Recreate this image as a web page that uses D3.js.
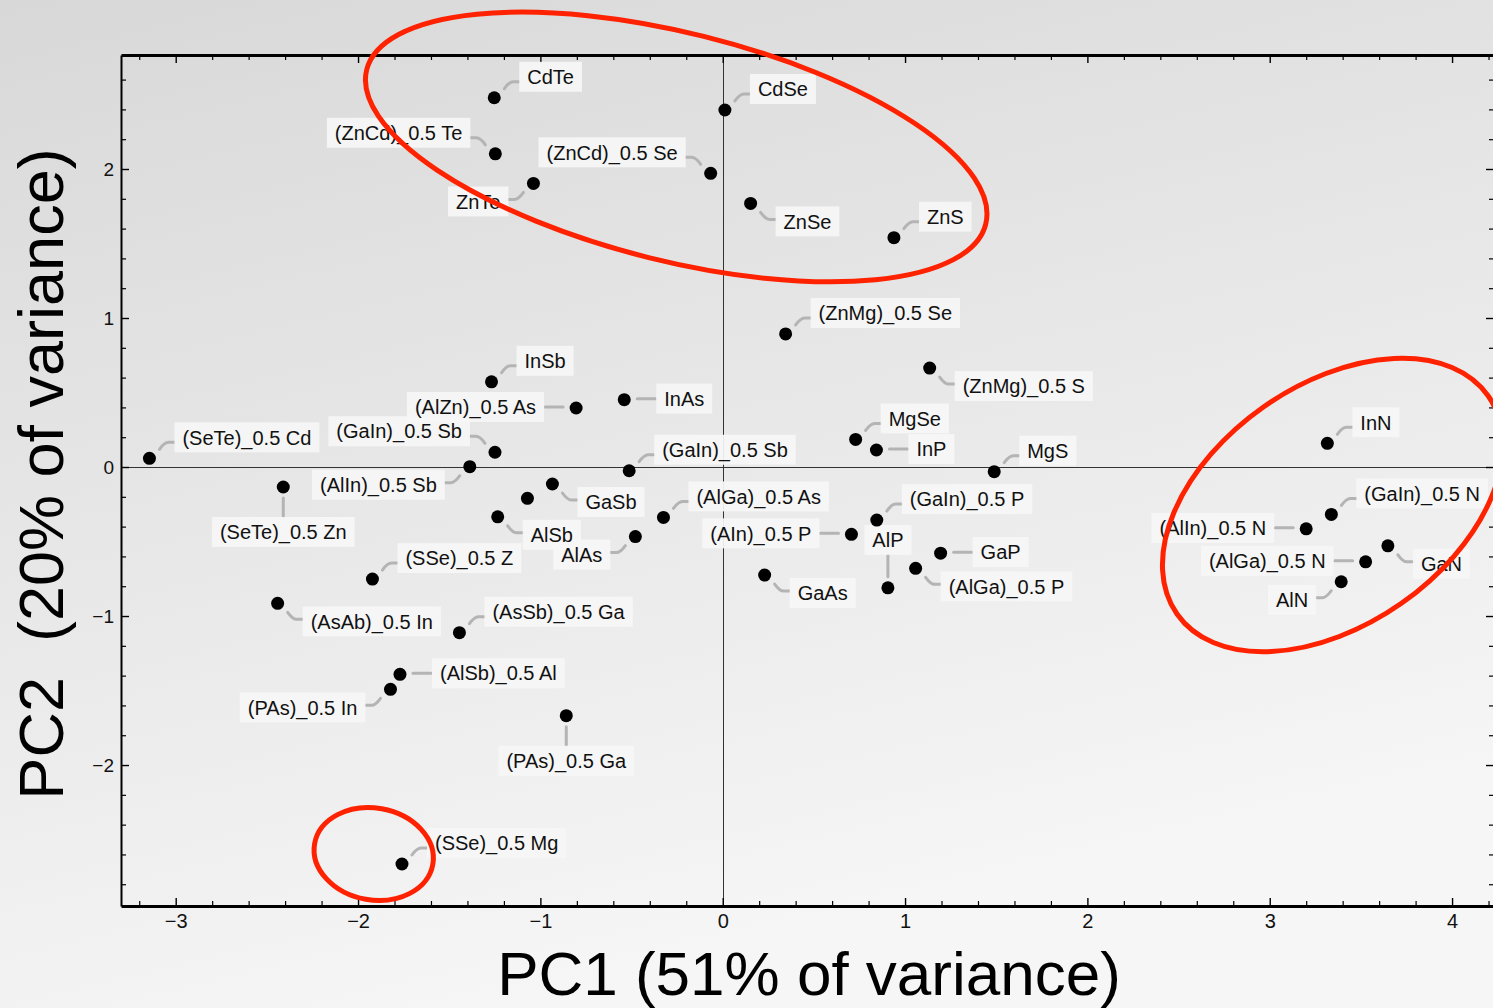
<!DOCTYPE html>
<html>
<head>
<meta charset="utf-8">
<script src="https://cdn.jsdelivr.net/npm/d3@7"></script>
<style>
html, body { margin: 0; padding: 0; overflow: hidden; }
svg { display: block; font-family: "Liberation Sans", Arial, Helvetica, sans-serif; }
.tick-label { font-family: "Liberation Sans", Arial, sans-serif; fill: #111; }
</style>
</head>
<body>
<svg id="chart" width="1493" height="1008"></svg>
<script>
'use strict';

// compounds and their scores on the first two principal components
const names = [
    'CdTe', 'CdSe', '(ZnCd)_0.5 Te', '(ZnCd)_0.5 Se', 'ZnTe', 'ZnSe', 'ZnS',
    '(ZnMg)_0.5 Se', '(ZnMg)_0.5 S', 'InSb', '(AlZn)_0.5 As', 'InAs',
    '(SeTe)_0.5 Cd', '(GaIn)_0.5 Sb', '(AlIn)_0.5 Sb', '(GaIn)_0.5 Sb',
    'MgSe', 'InP', 'MgS', 'InN', '(SeTe)_0.5 Zn', 'GaSb', '', 'AlSb',
    '(AlGa)_0.5 As', 'AlAs', '(SSe)_0.5 Z', '(AsAb)_0.5 In', '(AsSb)_0.5 Ga',
    '(AlSb)_0.5 Al', '(PAs)_0.5 In', '(PAs)_0.5 Ga', '(SSe)_0.5 Mg',
    '(GaIn)_0.5 P', '(AIn)_0.5 P', 'AlP', 'GaP', '(AlGa)_0.5 P', 'GaAs',
    '(GaIn)_0.5 N', '(AlIn)_0.5 N', 'GaN', '(AlGa)_0.5 N', 'AlN'
];
const pc1 = [
    -1.253, 0.012, -1.247, -0.066, -1.038, 0.153, 0.939,
    0.345, 1.135, -1.268, -0.804, -0.540,
    -3.144, -1.249, -1.387, -0.513,
    0.729, 0.843, 1.489, 3.316, -2.410, -0.934, -1.071, -1.234,
    -0.325, -0.479, -1.921, -2.441, -1.444,
    -1.770, -1.822, -0.858, -1.759,
    0.845, 0.706, 0.906, 1.195, 1.058, 0.230,
    3.338, 3.200, 3.648, 3.526, 3.392
];
const pc2 = [
    2.478, 2.396, 2.102, 1.971, 1.903, 1.769, 1.539,
    0.893, 0.664, 0.572, 0.396, 0.452,
    0.058, 0.099, 0.002, -0.025,
    0.185, 0.114, -0.031, 0.159, -0.134, -0.114, -0.210, -0.334,
    -0.338, -0.467, -0.752, -0.915, -1.112,
    -1.391, -1.492, -1.669, -2.664,
    -0.356, -0.452, -0.811, -0.578, -0.680, -0.725,
    -0.318, -0.415, -0.529, -0.636, -0.770
];

// where each callout sits relative to its point
const labelSide = [
    'ne', 'ne', 'nw', 'nw', 'sw', 'se', 'ne',
    'ne', 'se', 'ne', 'w', 'e',
    'ne', 'nw', 'sw', 'ne',
    'ne', 'e', 'ne', 'ne', 's', 'se', '', 'se',
    'ne', 'sw', 'ne', 'se', 'ne',
    'e', 'sw', 's', 'ne',
    'ne', 'w', 'n', 'e', 'se', 'se',
    'ne', 'w', 'se', 'w', 'sw'
];

const xTicks = [-3, -2, -1, 0, 1, 2, 3, 4];
const yTicks = [-2, -1, 0, 1, 2];

const xTitle = 'PC1 (51% of variance)';
const yTitle = 'PC2  (20% of variance)';

// hand-drawn red rings: centres in PC units
const ringPC1 = [-0.255, 3.345, -1.914];
const ringPC2 = [2.148, -0.255, -2.597];
const ringShape = [[319, 114, 14], [190, 120, -35], [60, 46, 10]];

(function() {
    const width = 1493;
    const height = 1008;
    const plot = {left: 121, top: 55, right: 1494, bottom: 906};
    const svg = d3.select('#chart');

    const x = d3.scaleLinear().domain([-3.3, 4.23]).range([plot.left, plot.right]);
    const y = d3.scaleLinear().domain([-2.946, 2.765]).range([plot.bottom, plot.top]);

    // Background
    const grad = svg.append('defs').append('linearGradient')
        .attr('id', 'bg')
        .attr('x1', 0).attr('y1', 0)
        .attr('x2', 0.35).attr('y2', 1);
    grad.append('stop').attr('offset', 0).attr('stop-color', '#d8d8d8');
    grad.append('stop').attr('offset', 1).attr('stop-color', '#f6f6f6');
    svg.append('rect')
        .attr('width', width)
        .attr('height', height)
        .attr('fill', 'url(#bg)');

    // Zero lines
    const x0 = Math.round(x(0)) + 0.5;
    const y0 = Math.round(y(0)) + 0.5;
    svg.append('line')
        .attr('x1', x0).attr('x2', x0)
        .attr('y1', plot.top).attr('y2', plot.bottom)
        .attr('stroke', '#333').attr('stroke-width', 1);
    svg.append('line')
        .attr('x1', plot.left).attr('x2', plot.right)
        .attr('y1', y0).attr('y2', y0)
        .attr('stroke', '#333').attr('stroke-width', 1);

    // Axes
    const isMinor = v => Math.abs(v - Math.round(v)) > 1e-6;
    const minorX = d3.range(-16, 22).map(k => +(k * 0.2).toFixed(1)).filter(isMinor);
    const minorY = d3.range(-14, 14).map(k => +(k * 0.2).toFixed(1)).filter(isMinor);

    function frame(axis, transform, major, minor, labelSize, domainWidth) {
        const g = svg.append('g')
            .attr('transform', transform)
            .call(axis.tickValues(major).tickSize(-8).tickSizeOuter(0)
                .tickFormat(labelSize ? d3.format('') : ''));
        g.attr('font-size', labelSize || 10);
        g.select('.domain')
            .attr('stroke', '#000')
            .attr('stroke-width', domainWidth);
        g.selectAll('.tick line').attr('stroke', '#000').attr('stroke-width', 1.4);
        g.selectAll('.tick text').attr('class', 'tick-label');

        const m = svg.append('g')
            .attr('transform', transform)
            .call(axis.tickValues(minor).tickSize(-5).tickFormat(''));
        m.select('.domain').remove();
        m.selectAll('.tick line').attr('stroke', '#000').attr('stroke-width', 1.2);
        return g;
    }

    frame(d3.axisBottom(x).tickPadding(8), 'translate(0,' + plot.bottom + ')', xTicks, minorX, 20, 3);
    frame(d3.axisTop(x), 'translate(0,' + plot.top + ')', xTicks, minorX, 0, 3);
    frame(d3.axisLeft(y).tickPadding(7), 'translate(' + plot.left + ',0)', yTicks, minorY, 19, 2);
    frame(d3.axisRight(y), 'translate(' + plot.right + ',0)', yTicks, minorY, 0, 2);

    // Titles
    svg.append('text')
        .attr('x', 809)
        .attr('y', 995)
        .attr('text-anchor', 'middle')
        .attr('font-size', 62)
        .attr('fill', '#000')
        .text(xTitle);

    svg.append('text')
        .attr('transform', 'translate(63,474) rotate(-90)')
        .attr('text-anchor', 'middle')
        .attr('font-size', 63)
        .attr('fill', '#000')
        .style('white-space', 'pre')
        .text(yTitle);

    // Points with callouts
    const pts = names.map((n, i) => ({
        name: n,
        px: x(pc1[i]),
        py: y(pc2[i]),
        side: labelSide[i]
    }));
    const labelled = pts.filter(d => d.name !== '');

    const links = svg.append('g');
    const boxes = svg.append('g');
    const texts = svg.append('g');

    texts.selectAll('text')
        .data(labelled)
        .enter()
        .append('text')
        .attr('font-size', 20)
        .attr('fill', '#111')
        .attr('dy', '0.36em')
        .text(d => d.name)
        .each(function(d) {
            const w = this.getComputedTextLength();
            const s = d.side;
            const sx = s.indexOf('e') >= 0 ? 1 : (s.indexOf('w') >= 0 ? -1 : 0);
            const sy = s[0] === 'n' ? -1 : (s[0] === 's' ? 1 : 0);
            let tx, ty, path;
            if (s.length === 2) {
                tx = sx > 0 ? d.px + 33 : d.px - 33 - w;
                ty = d.py + (sy < 0 ? -21 : 18);
                path = 'M' + (d.px + sx * 10) + ',' + (d.py + sy * 9) +
                    'Q' + (d.px + sx * 15) + ',' + (d.py + sy * 16) +
                    ' ' + (d.px + sx * 19) + ',' + (d.py + sy * 16) +
                    'L' + (d.px + sx * 25) + ',' + (d.py + sy * 16);
            } else if (sx !== 0) {
                tx = sx > 0 ? d.px + 40 : d.px - 40 - w;
                ty = d.py - 1;
                path = 'M' + (d.px + sx * 13) + ',' + ty + 'L' + (d.px + sx * 31) + ',' + ty;
            } else {
                tx = d.px - w / 2;
                ty = sy > 0 ? d.py + 45 : d.py - 48;
                path = 'M' + d.px + ',' + (d.py + sy * 11) + 'L' + d.px + ',' + (d.py + sy * (sy > 0 ? 30 : 33));
            }
            d3.select(this).attr('x', tx).attr('y', ty);

            boxes.append('rect')
                .attr('x', tx - 8)
                .attr('y', ty - 15)
                .attr('width', w + 16)
                .attr('height', 30)
                .attr('fill', '#f6f6f6')
                .attr('fill-opacity', 0.92);

            links.append('path')
                .attr('d', path)
                .attr('fill', 'none')
                .attr('stroke', '#b4b4b4')
                .attr('stroke-width', 3)
                .attr('stroke-linecap', 'round');
        });

    svg.append('g')
        .selectAll('circle')
        .data(pts)
        .enter()
        .append('circle')
        .attr('cx', d => d.px)
        .attr('cy', d => d.py)
        .attr('r', 6.5)
        .attr('fill', '#000');

    // Red rings
    svg.append('g')
        .selectAll('ellipse')
        .data(ringPC1)
        .enter()
        .append('ellipse')
        .attr('transform', (d, i) => 'translate(' + x(d) + ',' + y(ringPC2[i]) + ') rotate(' + ringShape[i][2] + ')')
        .attr('rx', (d, i) => ringShape[i][0])
        .attr('ry', (d, i) => ringShape[i][1])
        .attr('fill', 'none')
        .attr('stroke', '#ff2200')
        .attr('stroke-width', 5);
}());
</script>
</body>
</html>
